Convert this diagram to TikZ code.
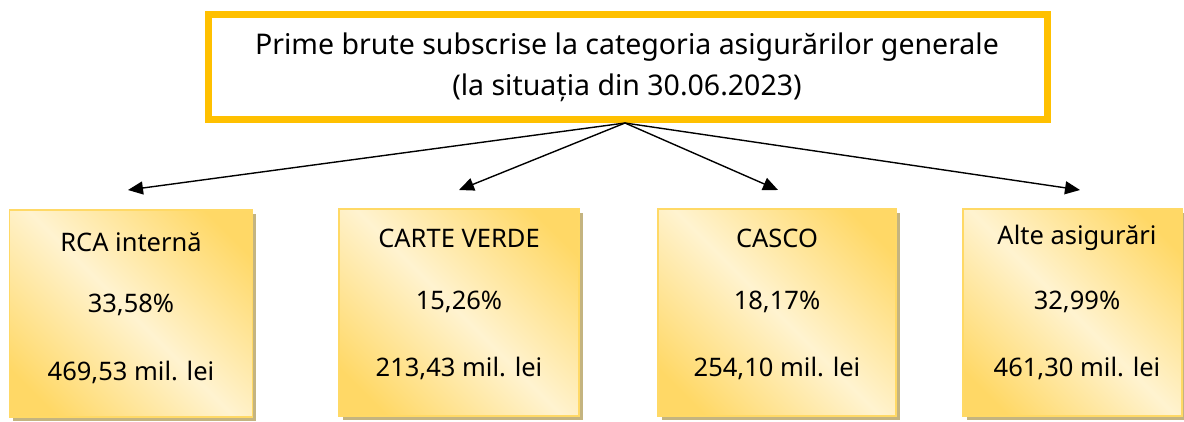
\documentclass[tikz,border=0pt]{standalone}
\usepackage{fontspec}
\setmainfont{Noto Sans}
\usetikzlibrary{arrows.meta,shadows}
\definecolor{gold}{RGB}{255,192,0}
\definecolor{golddark}{RGB}{255,216,102}
\definecolor{goldlight}{RGB}{255,243,208}
\definecolor{goldline}{RGB}{255,217,102}
\definecolor{shadowc}{RGB}{196,180,128}
\pgfdeclarehorizontalshading{goldrefl}{100bp}{color(0bp)=(golddark); color(22bp)=(golddark); color(50bp)=(goldlight); color(78bp)=(golddark); color(100bp)=(golddark)}
\tikzset{
  titlebox/.style={draw=gold, line width=7pt, fill=white, minimum width=839pt, minimum height=105pt, inner sep=0pt},
  catbox/.style={draw=goldline, line width=1.2pt, shading=goldrefl, shading angle=45, minimum height=207pt, inner sep=0pt,
    drop shadow={shadow xshift=3.5pt, shadow yshift=-3.5pt, fill=shadowc, opacity=1}},
  txt/.style={font=\fontsize{25.5}{30}\selectfont, inner sep=0pt},
  ttl/.style={font=\fontsize{28.5}{41}\selectfont, align=center, inner sep=0pt},
  arr/.style={line width=1.4pt, -{Triangle[length=15pt,width=13pt]}}
}
\begin{document}
\begin{tikzpicture}[x=1pt,y=-1pt]
\useasboundingbox (0,0) rectangle (1184,421);
\node[titlebox] (top) at (628,67) {};
\node[ttl] (ttltext) at (627,67) {Prime brute subscrise la categoria asigurărilor generale\\(la situația din 30.06.2023)};
\coordinate (src) at (625,123);

\node[catbox, minimum width=243pt] (b1) at (131,313.5) {};
\node[catbox, minimum width=240pt] (b2) at (459,312.5) {};
\node[catbox, minimum width=238pt] (b3) at (777,312.5) {};
\node[catbox, minimum width=219pt] (b4) at (1072.5,312.5) {};

\node[txt] (b1a) at (131,242) {RCA internă};
\node[txt] (b1b) at (131,305) {33,58\%};
\node[txt] (b1c) at (131,372) {469,53 mil. lei};

\node[txt] (b2a) at (459,238) {CARTE VERDE};
\node[txt] (b2b) at (459,302) {15,26\%};
\node[txt] (b2c) at (459,368) {213,43 mil. lei};

\node[txt] (b3a) at (777,238) {CASCO};
\node[txt] (b3b) at (777,302) {18,17\%};
\node[txt] (b3c) at (777,368) {254,10 mil. lei};

\node[txt] (b4a) at (1077,238) {Alte asigurări};
\node[txt] (b4b) at (1077,302) {32,99\%};
\node[txt] (b4c) at (1077,368) {461,30 mil. lei};

\coordinate (t1) at (128,190);
\coordinate (t2) at (459,190);
\coordinate (t3) at (778,190);
\coordinate (t4) at (1080,190);
\draw[arr] (src) -- (t1);
\draw[arr] (src) -- (t2);
\draw[arr] (src) -- (t3);
\draw[arr] (src) -- (t4);
\end{tikzpicture}
\end{document}
